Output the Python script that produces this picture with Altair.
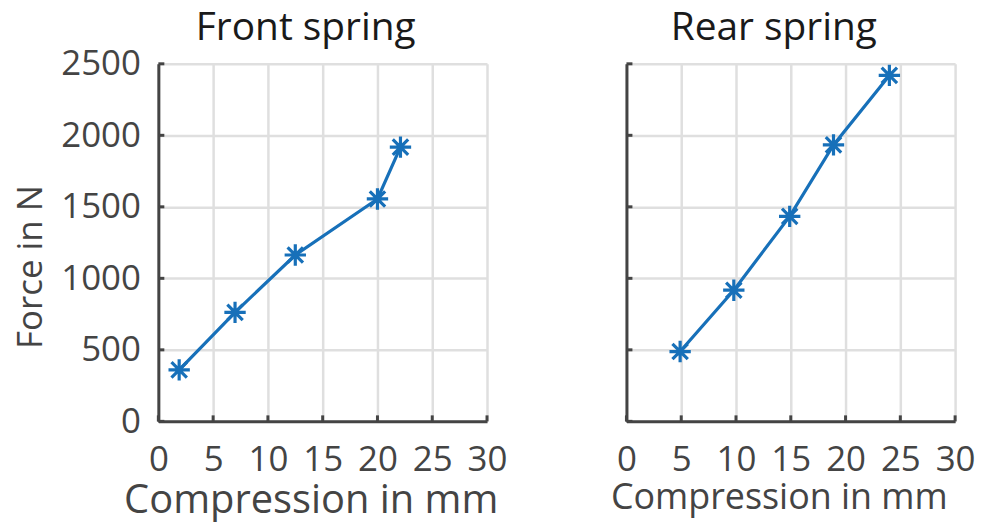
import altair as alt
import pandas as pd

# Measured spring characteristics (compression in mm, force in N)
front_x = [1.9, 7.0, 12.5, 20.0, 22.1]
front_y = [360, 762, 1163, 1555, 1917]
rear_x = [4.9, 9.8, 14.9, 18.9, 24.0]
rear_y = [488, 917, 1433, 1933, 2419]

x_ticks = [0, 5, 10, 15, 20, 25, 30]
y_ticks = [0, 500, 1000, 1500, 2000, 2500]

FONT = "Open Sans"
BLUE = "#1770b9"
AXIS = "#444444"
W, H = 330, 359

# eight-spoke asterisk marker
ASTERISK = "M-1,0L1,0M0,-1L0,1M-0.72,-0.72L0.72,0.72M-0.72,0.72L0.72,-0.72"

xt = pd.DataFrame({"v": x_ticks})
yt = pd.DataFrame({"v": y_ticks})


def panel(xs, ys, title, show_y_labels, title_offset, xtitle_size):
    df = pd.DataFrame({"x": xs, "y": ys})
    xscale = alt.Scale(domain=[0, 30], nice=False)
    yscale = alt.Scale(domain=[0, 2500], nice=False)
    xaxis = alt.Axis(values=x_ticks, format="d", title="Compression in mm",
                     labelPadding=21, titlePadding=4, labelFlush=False,
                     titleFontSize=xtitle_size, titleX=W / 2 - 12)
    if show_y_labels:
        yaxis = alt.Axis(values=y_ticks, format="d", title="Force in N",
                         labelPadding=18, titlePadding=12, labelFlush=False,
                         titleFontSize=35, titleY=H / 2 + 24)
    else:
        yaxis = alt.Axis(values=y_ticks, title=None, labels=False)

    base = alt.Chart(df)
    line = base.mark_line(color=BLUE, strokeWidth=3.2).encode(
        x=alt.X("x:Q", scale=xscale, axis=xaxis),
        y=alt.Y("y:Q", scale=yscale, axis=yaxis),
    )
    pts = base.mark_point(shape=ASTERISK, size=460, color=BLUE, strokeWidth=3.2,
                          filled=False, opacity=1).encode(
        x=alt.X("x:Q", scale=xscale),
        y=alt.Y("y:Q", scale=yscale),
    )
    # inward-pointing tick marks
    ytk = alt.Chart(yt).mark_rule(color=AXIS, strokeWidth=3).encode(
        y=alt.Y("v:Q", scale=yscale), x=alt.value(0), x2=alt.value(6)
    )
    xtk = alt.Chart(xt).mark_rule(color=AXIS, strokeWidth=3).encode(
        x=alt.X("v:Q", scale=xscale), y=alt.value(H), y2=alt.value(H - 6)
    )
    return alt.layer(ytk, xtk, line, pts).properties(
        width=W, height=H,
        title=alt.TitleParams(title, font=FONT, fontSize=39, fontWeight="normal",
                              color="#1a1a1a", offset=title_offset, dx=-17),
    )


chart = alt.hconcat(
    panel(front_x, front_y, "Front spring", True, -1, 40),
    panel(rear_x, rear_y, "Rear spring", False, 10, 36),
    spacing=140,
    bounds="flush",
).properties(
    padding={"left": 13, "top": 8, "right": 5, "bottom": 0}
).configure_view(
    strokeWidth=0
).configure_axis(
    domainColor=AXIS, domainWidth=3, ticks=False,
    grid=True, gridColor="#dfdfdf", gridWidth=2.5,
    labelFont=FONT, labelFontSize=35, labelColor=AXIS,
    titleFont=FONT, titleFontSize=38, titleFontWeight="normal", titleColor="#444444",
)

chart.save("out.html", embed_options={"renderer": "svg", "actions": False})
